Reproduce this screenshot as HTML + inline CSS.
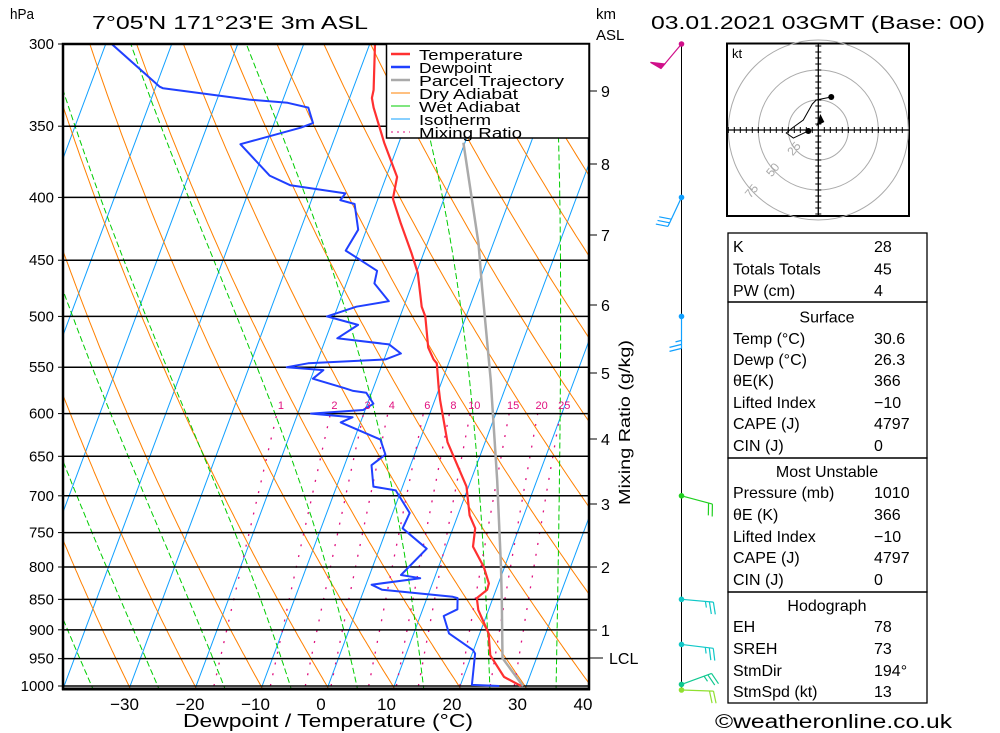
<!DOCTYPE html>
<html><head><meta charset="utf-8"><style>
html,body{margin:0;padding:0;background:#fff;}
svg{display:block;font-family:"Liberation Sans",sans-serif;}
</style></head><body>
<svg id="chart" width="1000" height="733" viewBox="0 0 1000 733" xmlns="http://www.w3.org/2000/svg">
<defs><clipPath id="plotclip"><rect x="63" y="44" width="526" height="645"/></clipPath></defs>
<rect width="1000" height="733" fill="#fff"/>
<g id="bg" clip-path="url(#plotclip)"></g>
<g id="profiles" clip-path="url(#plotclip)"></g>
<g id="axes"></g>
<g id="legend"></g>
<g id="wind"></g>
<g id="hodo"></g>
<g id="table"></g>
<text x="92" y="29" font-size="18" textLength="276" lengthAdjust="spacingAndGlyphs">7°05'N 171°23'E 3m ASL</text>
<text x="651" y="29" font-size="18" textLength="334" lengthAdjust="spacingAndGlyphs">03.01.2021 03GMT (Base: 00)</text>
<text x="10" y="19" font-size="15" textLength="24" lengthAdjust="spacingAndGlyphs">hPa</text>
<text x="596" y="19" font-size="15">km</text>
<text x="596" y="40" font-size="15">ASL</text>
<text x="183" y="727" font-size="18" textLength="290" lengthAdjust="spacingAndGlyphs">Dewpoint / Temperature (°C)</text>
<text transform="translate(630,505) rotate(-90)" font-size="16" textLength="165" lengthAdjust="spacingAndGlyphs">Mixing Ratio (g/kg)</text>
<text x="715" y="728" font-size="19" textLength="237" lengthAdjust="spacingAndGlyphs">©weatheronline.co.uk</text>
</svg>
<script>
// ---- data ----
const tempP = [300,327,332,338,361,385,401,420,444,461,491,500,530,542,546,572,585,633,688,726,744,770,800,825,835,848,867,906,944,983,1000];
const tempT = [-29.2,-26.8,-26.6,-25.8,-22.2,-18.3,-17.7,-15.1,-11.8,-9.7,-7.2,-6.1,-3.9,-2.4,-1.7,0.0,0.9,4.4,9.8,11.9,13.5,14.2,17.0,18.7,18.8,17.7,18.6,21.5,23.0,26.3,29.4];
const dewP = [300,325,326,333,335,338,348,351,362,384,391,397,402,405,425,442,459,470,486,491,500,508,521,527,536,542,546,550,553,562,572,575,577,589,596,600,604,610,630,648,661,688,693,723,744,773,812,817,827,835,846,848,866,877,906,935,941,998,1000];
const dewT = [-69.1,-59.4,-58.8,-45.1,-39.1,-35.7,-34.1,-35.7,-43.9,-37.7,-34.0,-25.2,-25.6,-23.2,-21.2,-21.9,-16.0,-15.7,-12.5,-17.1,-21.0,-15.8,-18.2,-10.0,-7.7,-9.7,-21.2,-24.2,-18.5,-19.6,-14.3,-12.8,-10.7,-9.0,-10.2,-17.9,-11.4,-12.9,-5.9,-4.3,-5.8,-4.3,-0.7,2.7,2.5,7.3,4.9,8.0,1.0,2.9,14.0,14.8,15.4,13.7,15.5,20.1,20.6,21.9,26.1];
const parcelP = [361,436,473,563,680,800,851,949,1000];
const parcelT = [-10.2,-2.2,0.8,7.4,14.1,19.6,21.6,25.0,29.7];
const pressureTicks = [300,350,400,450,500,550,600,650,700,750,800,850,900,950,1000];
const tempTicks = [-30,-20,-10,0,10,20,30,40];
const kmTicks = [1,2,3,4,5,6,7,8,9];
const kmY = [630,567,504,439,373,305,235,164,91];
const mixRatios = [1,2,3,4,6,8,10,15,20,25];
const windP = [300,400,500,700,850,925,997,1000];
const windDir = [220,205,180,105,95,97,70,92];
const windSpd = [50,30,25,20,25,25,25,20];
const windColor = ['#d0108a','#10a0ff','#10a0ff','#20d020','#10c8c8','#10c8c8','#10c890','#90e030'];
const hodoU = [-8.3,-20.8,-26.7,-21.7,-12.5,-5,-1.7,10.8];
const hodoV = [-0.8,-6.7,-2.5,1.7,8.3,21.7,25,27.5];
const stormU = 1.7, stormV = 10;
const tableRows = [
 ['K','28'],['Totals Totals','45'],['PW (cm)','4'],
 ['#Surface'],['Temp (°C)','30.6'],['Dewp (°C)','26.3'],['θE(K)','366'],['Lifted Index','−10'],['CAPE (J)','4797'],['CIN (J)','0'],
 ['#Most Unstable'],['Pressure (mb)','1010'],['θE (K)','366'],['Lifted Index','−10'],['CAPE (J)','4797'],['CIN (J)','0'],
 ['#Hodograph'],['EH','78'],['SREH','73'],['StmDir','194°'],['StmSpd (kt)','13']];

// ---- scales ----
const NS='http://www.w3.org/2000/svg';
function yP(p){return 686-Math.log(1000/p)/Math.log(1000/300)*642;}
function xT(T,p){return 327+6.6*T+0.375*(686-yP(p));}
function mk(tag,attrs,parent){const e=document.createElementNS(NS,tag);for(const k in attrs)e.setAttribute(k,attrs[k]);parent.appendChild(e);return e;}
function pts(ps,ts){return ps.map((p,i)=>xT(ts[i],p).toFixed(1)+','+yP(p).toFixed(1)).join(' ');}
const bg=document.getElementById('bg');
// isotherms
for(let T=-130;T<=40;T+=10){
 const l=mk('line',{x1:xT(T,1000),y1:yP(1000)+3,x2:xT(T,300),y2:yP(300),stroke:'#10a0ff','stroke-width':1},bg);
 
 
}
// dry adiabats
for(let T0=-60;T0<=170;T0+=10){
 const ps=[],ts=[];
 for(let p=1010;p>=295;p-=5){ps.push(p);ts.push((T0+273.15)*Math.pow(p/1000,0.2857)-273.15);}
 const l=mk('polyline',{points:pts(ps,ts),fill:'none',stroke:'#ff8000','stroke-width':1},bg);
 
 
}
// wet adiabats
function es(T){return 6.112*Math.exp(17.67*T/(T+243.5));}
for(let T0=-45;T0<=45;T0+=10){
 const ps=[],ts=[];let T=T0;
 for(let p=1010;p>=295;p-=2){
  ps.push(p);ts.push(T);
  const Tk=T+273.15,e=es(T),rs=0.622*e/(p-e);
  const dTdp=(287*Tk+2.5e6*rs)/(p*(1004+2.5e6*2.5e6*rs*0.622/(287*Tk*Tk)));
  T-=dTdp*2;
 }
 const l=mk('polyline',{points:pts(ps,ts),fill:'none',stroke:'#00cc00','stroke-width':1,'stroke-dasharray':'6,3'},bg);
 
 
}
// mixing ratio lines
mixRatios.forEach(w=>{
 const ps=[],ts=[];
 for(let p=1000;p>=600;p-=10){const e=w*p/(622+w),L=Math.log(e/6.112);ps.push(p);ts.push(243.5*L/(17.67-L));}
 const l=mk('polyline',{points:pts(ps,ts),fill:'none',stroke:'#e0107f','stroke-width':1.3,'stroke-dasharray':'2,9'},bg);
 
 
 const e=w*600/(622+w),L=Math.log(e/6.112);
 const t=mk('text',{x:xT(243.5*L/(17.67-L),600)+4,y:409,'font-size':11,fill:'#e0107f','text-anchor':'middle'},document.getElementById('axes'));
 t.textContent=w;
 
 
});
// isobars
const ax=document.getElementById('axes');
pressureTicks.forEach(p=>{
 const y=yP(p);
 const l=mk('line',{x1:63,y1:y,x2:589,y2:y,stroke:'#000','stroke-width':1.5},bg);
 
 
 const tk=mk('line',{x1:58,y1:y,x2:63,y2:y,stroke:'#000','stroke-width':1},ax);
 
 
 const t=mk('text',{x:54,y:y+5,'font-size':15,'text-anchor':'end'},ax);
 t.textContent=p;
 
 
});
// profiles
const pr=document.getElementById('profiles');
let l=mk('polyline',{points:pts(parcelP,parcelT),fill:'none',stroke:'#aaaaaa','stroke-width':2.5},pr);


l=mk('polyline',{points:pts(dewP,dewT),fill:'none',stroke:'#2040ff','stroke-width':2,'stroke-linejoin':'round'},pr);


l=mk('polyline',{points:pts(tempP,tempT),fill:'none',stroke:'#ff3030','stroke-width':2.2,'stroke-linejoin':'round'},pr);


// frame
l=mk('rect',{x:63,y:44,width:526,height:645,fill:'none',stroke:'#000','stroke-width':2.5},ax);


l=mk('line',{x1:62,y1:689,x2:590,y2:689,stroke:'#000','stroke-width':3},ax);


tempTicks.forEach(T=>{
 const t=mk('text',{x:321+6.55*T,y:710,'font-size':17,'text-anchor':'middle'},ax);
 t.textContent=T<0?'−'+(-T):String(T);
 
 
});
kmTicks.forEach((k,i)=>{
 const tk=mk('line',{x1:589,y1:kmY[i],x2:597,y2:kmY[i],stroke:'#000','stroke-width':1},ax);
 
 
 const t=mk('text',{x:601,y:kmY[i]+6,'font-size':16},ax);
 t.textContent=k;
 
 
});
l=mk('line',{x1:589,y1:658,x2:603,y2:658,stroke:'#000','stroke-width':1},ax);


l=mk('text',{x:609,y:664,'font-size':16},ax);
l.textContent='LCL';


// legend
const lg=document.getElementById('legend');
l=mk('rect',{x:386.5,y:44,width:202.5,height:94,fill:'#fff',stroke:'#000','stroke-width':1.5},lg);


const legNames=['Temperature','Dewpoint','Parcel Trajectory','Dry Adiabat','Wet Adiabat','Isotherm','Mixing Ratio'];
const legCols=['#ff3030','#2040ff','#aaaaaa','#ff8000','#00cc00','#10a0ff','#e0107f'];
const legW=[104,73,145,99,101,72,103];
legNames.forEach((n,i)=>{
 const y=54+i*13;
 const s=mk('line',{x1:391,y1:y,x2:410,y2:y,stroke:legCols[i],'stroke-width':i<3?2.5:1,'stroke-dasharray':i==6?'2,4':'none'},lg);
 
 
 const t=mk('text',{x:419,y:y+6,'font-size':15,textLength:legW[i],lengthAdjust:'spacingAndGlyphs'},lg);
 t.textContent=n;
 
 
});
// wind column
const wd=document.getElementById('wind');
l=mk('line',{x1:681.5,y1:44,x2:681.5,y2:688,stroke:'#000','stroke-width':1},wd);


windP.forEach((p,i)=>{
 const x0=681.5,y0=p===1000?690:yP(p);
 const a=windDir[i]*Math.PI/180,ux=Math.sin(a),uy=-Math.cos(a),px=-uy,py=ux;
 const L=32,ex=x0+ux*L,ey=y0+uy*L,c=windColor[i];
 const g=mk('g',{stroke:c,fill:c,'stroke-width':1.2},wd);
 
 
 mk('line',{x1:x0,y1:y0,x2:ex,y2:ey},g);
 mk('circle',{cx:x0,cy:y0,r:2.8,stroke:'none'},g);
 let s=windSpd[i],d=0;
 while(s>=50){const bx=ex-ux*d,by=ey-uy*d;mk('polygon',{points:`${bx},${by} ${bx+px*12+ux*2},${by+py*12+uy*2} ${bx-ux*6},${by-uy*6}`},g);d+=8;s-=50;}
 while(s>=10){const bx=ex-ux*d,by=ey-uy*d;mk('line',{x1:bx,y1:by,x2:bx+px*12+ux*3,y2:by+py*12+uy*3},g);d+=4;s-=10;}
 if(s>=5){const bx=ex-ux*d,by=ey-uy*d;mk('line',{x1:bx,y1:by,x2:bx+px*6+ux*1.5,y2:by+py*6+uy*1.5},g);}
});
// hodograph
const hd=document.getElementById('hodo');
const cx=818.3,cy=130,k=1.2;
l=mk('rect',{x:727,y:43.5,width:182,height:172.5,fill:'#fff',stroke:'#000','stroke-width':2},hd);


[25,50,75].forEach(r=>{
 const c=mk('circle',{cx:cx,cy:cy,r:r*k,fill:'none',stroke:'#aaa','stroke-width':1},hd);
 
 
 const a=Math.PI*0.75,tx=cx+Math.cos(a)*r*k,ty=cy+Math.sin(a)*r*k;
 const t=mk('text',{x:tx,y:ty,'font-size':12,fill:'#aaa','text-anchor':'middle',transform:`rotate(-50 ${tx} ${ty})`},hd);
 t.textContent=r;
 
 
});
l=mk('path',{d:`M727,${cy}H909M${cx},43.5V216`,stroke:'#000','stroke-width':1.3},hd);


let tks='';for(let v=-75;v<=75;v+=5){if(v==0)continue;const o=v*k;if(cx+o>728&&cx+o<908)tks+=`M${cx+o},${cy-3}V${cy+3}`;if(cy+o>45&&cy+o<215)tks+=`M${cx-3},${cy+o}H${cx+3}`;}
l=mk('path',{d:tks,stroke:'#000','stroke-width':1},hd);


l=mk('polyline',{points:hodoU.map((u,i)=>(cx+u*k)+','+(cy-hodoV[i]*k)).join(' '),fill:'none',stroke:'#000','stroke-width':1},hd);


[0,hodoU.length-1].forEach(i=>{const c=mk('circle',{cx:cx+hodoU[i]*k,cy:cy-hodoV[i]*k,r:3,fill:'#000'},hd);});
l=mk('path',{d:`M${cx-2},${cy-stormV*k+8}L${cx+stormU*k},${cy-stormV*k-4}L${cx+stormU*k+4},${cy-stormV*k+4}Z`,fill:'#000'},hd);


l=mk('text',{x:732,y:58,'font-size':13},hd);
l.textContent='kt';


// table
const tb=document.getElementById('table');
[[233,302],[302,458],[458,592],[592,703]].forEach(b=>{
 const r=mk('rect',{x:728,y:b[0],width:199,height:b[1]-b[0],fill:'none',stroke:'#000','stroke-width':1.3},tb);
 
 
});
const rowY=[246,268.5,290,316.5,338,359,380,402,423,445,471,492,514,536,557,579,605,626,648,670,691];
tableRows.forEach((r,i)=>{
 const y=rowY[i]+6;
 if(r[0][0]=='#'){
  const t=mk('text',{x:827,y:y,'font-size':16,'text-anchor':'middle'},tb);
  t.textContent=r[0].slice(1);
  
  
 }else{
  const t=mk('text',{x:733,y:y,'font-size':16},tb);
  t.textContent=r[0];
  
  
  const v=mk('text',{x:874,y:y,'font-size':16},tb);
  v.textContent=r[1];
  
  
 }
});
</script>
</body></html>
